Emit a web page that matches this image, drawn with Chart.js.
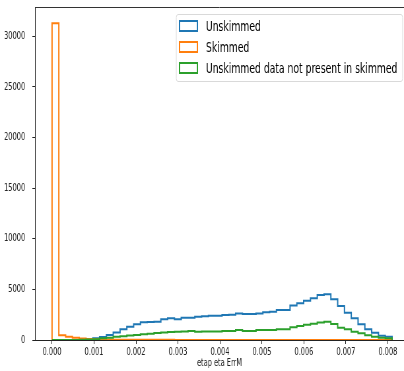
<!DOCTYPE html>
<html>
<head>
<meta charset="utf-8">
<script src="https://cdn.jsdelivr.net/npm/chart.js@4/dist/chart.umd.min.js"></script>
<style>
html, body { margin:0; padding:0; overflow:hidden; background:#fff; }
#wrap { width:612px; height:371px; transform:scaleX(0.6601); transform-origin:0 0; }
</style>
</head>
<body>
<div id="wrap"><canvas id="myChart" width="612" height="371"></canvas></div>
<script>
// 50 shared bins from 0 to 0.0081
var binStart = 0;
var binWidth = 0.000162;
var unskimmed = [0,0,0,0,0,30,170,300,500,750,
                 1050,1300,1550,1750,1780,1800,2050,2150,2050,2200,
                 2200,2300,2350,2400,2400,2470,2500,2630,2570,2570,
                 2630,2730,2800,2960,2960,3400,3620,3880,4120,4450,
                 4510,4020,3360,2700,2140,1550,1060,720,430,330];
var skimmed = [31300,460,330,220,150,100,70,50,40,35,
               30,28,25,22,20,18,15,14,12,10,
               8,6,5,0,0,0,0,0,0,0,
               0,0,0,0,0,0,0,0,0,0,
               0,0,0,0,0,0,0,0,0,0];
var notInSkimmed = [0,0,0,10,20,40,80,170,230,310,
                    360,440,490,570,610,700,740,800,820,830,
                    880,820,830,840,850,890,890,990,890,890,
                    990,990,990,1050,1050,1250,1380,1500,1600,1720,
                    1800,1580,1220,1050,820,660,460,330,230,170];
var xTicks = [0,0.001,0.002,0.003,0.004,0.005,0.006,0.007,0.008];
var yTicks = [0,5000,10000,15000,20000,25000,30000];
var names = ['Unskimmed','Skimmed','Unskimmed data not present in skimmed'];
var colors = ['#1f77b4','#ff7f0e','#2ca02c'];

function stepPoints(counts) {
    var pts = [{x: binStart, y: 0}];
    for (var i = 0; i < counts.length; i++) {
        pts.push({x: binStart + i * binWidth, y: counts[i]});
    }
    pts.push({x: binStart + counts.length * binWidth, y: counts[counts.length - 1]});
    pts.push({x: binStart + counts.length * binWidth, y: 0});
    return pts;
}

var tickFont = {family: '"DejaVu Sans"', size: 10};

// legend box and top spine, drawn like matplotlib
var extras = {
    id: 'extras',
    afterDraw: function(chart) {
        var ctx = chart.ctx;
        var area = chart.chartArea;
        ctx.save();
        ctx.strokeStyle = '#333';
        ctx.lineWidth = 1;
        ctx.beginPath();
        ctx.moveTo(area.left, area.top + 0.5);
        ctx.lineTo(area.right, area.top + 0.5);
        ctx.stroke();

        var bx = 267, by = 14.5, bw = 343, bh = 67;
        ctx.beginPath();
        ctx.roundRect(bx, by, bw, bh, 3);
        ctx.fillStyle = 'rgba(255,255,255,0.8)';
        ctx.fill();
        ctx.strokeStyle = '#d9d9d9';
        ctx.stroke();

        ctx.font = '14px "DejaVu Sans"';
        ctx.textBaseline = 'middle';
        for (var i = 0; i < names.length; i++) {
            var cy = 26 + i * 21;
            ctx.strokeStyle = colors[i];
            ctx.lineWidth = 2;
            ctx.strokeRect(272, cy - 5, 27, 10);
            ctx.fillStyle = '#000';
            ctx.fillText(names[i], 312, cy + 1);
        }
        ctx.restore();
    }
};

var datasets = [];
var series = [unskimmed, skimmed, notInSkimmed];
for (var i = 0; i < series.length; i++) {
    datasets.push({
        label: names[i],
        data: stepPoints(series[i]),
        borderColor: colors[i],
        backgroundColor: colors[i],
        borderWidth: 2,
        pointRadius: 0,
        stepped: 'before',
        fill: false,
        order: series.length - i
    });
}

new Chart(document.getElementById('myChart'), {
    type: 'line',
    data: {datasets: datasets},
    options: {
        responsive: false,
        animation: false,
        events: [],
        layout: {padding: {top: 7, right: 0, left: 0, bottom: 0}},
        plugins: {legend: {display: false}, tooltip: {enabled: false}},
        scales: {
            x: {
                type: 'linear',
                min: -0.000406,
                max: 0.008384,
                z: 1,
                afterFit: function(scale) {
                    scale.height = 31;
                    scale.paddingLeft = 0;
                    scale.paddingRight = 0;
                },
                afterBuildTicks: function(scale) {
                    scale.ticks = xTicks.map(function(v) { return {value: v}; });
                },
                grid: {drawOnChartArea: false, drawTicks: true, tickLength: 4, color: '#222'},
                border: {display: true, color: '#222', width: 1},
                ticks: {
                    font: tickFont, color: '#222', padding: 2, maxRotation: 0, autoSkip: false,
                    callback: function(v) { return v.toFixed(3); }
                },
                title: {display: true, text: 'etap eta ErrM', font: tickFont, color: '#222',
                        padding: {top: 0, bottom: 2}}
            },
            y: {
                min: 0,
                max: 32900,
                z: 1,
                afterFit: function(scale) {
                    scale.width = 53;
                    scale.paddingTop = 0;
                    scale.paddingBottom = 0;
                },
                afterBuildTicks: function(scale) {
                    scale.ticks = yTicks.map(function(v) { return {value: v}; });
                },
                grid: {drawOnChartArea: false, drawTicks: true, tickLength: 4, color: '#222'},
                border: {display: true, color: '#222', width: 1},
                ticks: {
                    font: tickFont, color: '#222', padding: 11, autoSkip: false,
                    callback: function(v) { return String(v); }
                }
            }
        }
    },
    plugins: [extras]
});
</script>
</body>
</html>
